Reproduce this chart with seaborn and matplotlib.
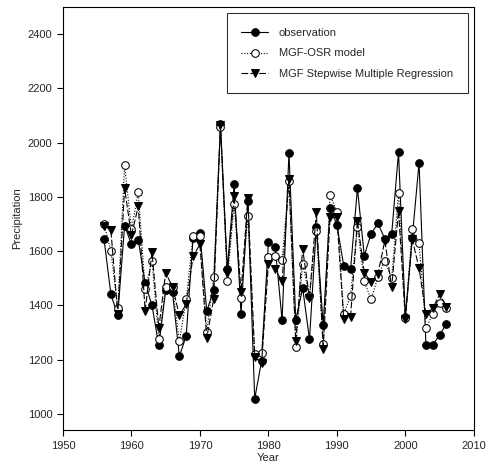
import numpy as np
import pandas as pd
import matplotlib
matplotlib.use("Agg")
import matplotlib.pyplot as plt
import seaborn as sns

# données (1956-2006)
years = list(range(1956, 2007))
observation = [1644, 1441, 1363, 1694, 1625, 1642, 1481, 1400, 1252, 1455,
               1448, 1212, 1288, 1647, 1668, 1378, 1458, 2070, 1533, 1847,
               1367, 1786, 1055, 1195, 1634, 1614, 1345, 1962, 1346, 1464,
               1275, 1690, 1327, 1760, 1697, 1546, 1533, 1832, 1583, 1664,
               1702, 1645, 1663, 1964, 1357, 1648, 1926, 1255, 1255, 1290,
               1333]
mgf_osr = [1700, 1601, 1389, 1917, 1681, 1817, 1461, 1563, 1275, 1468,
           1468, 1267, 1422, 1657, 1657, 1301, 1503, 2057, 1490, 1775,
           1428, 1729, 1221, 1225, 1579, 1581, 1568, 1857, 1248, 1553,
           1435, 1675, 1258, 1808, 1745, 1368, 1436, 1690, 1488, 1422,
           1505, 1565, 1499, 1816, 1353, 1680, 1630, 1315, 1368, 1408,
           1390]
mgf_smr = [1694, 1677, 1367, 1831, 1658, 1765, 1380, 1595, 1317, 1520,
           1468, 1363, 1404, 1581, 1625, 1280, 1422, 2064, 1520, 1804,
           1448, 1795, 1209, 1186, 1553, 1533, 1488, 1867, 1267, 1608,
           1428, 1743, 1238, 1724, 1726, 1348, 1358, 1712, 1520, 1487,
           1517, 1638, 1467, 1749, 1350, 1644, 1537, 1369, 1389, 1441,
           1395]
labels = ["observation", "MGF-OSR model", "MGF Stepwise Multiple Regression"]

sns.set_style("ticks")
plt.rcParams["font.family"] = ["Liberation Sans", "DejaVu Sans"]

fig = plt.figure(figsize=(4.88, 4.66), dpi=100)
ax = fig.add_axes([0.129, 0.077, 0.842, 0.908])

sns.lineplot(x=years, y=observation, ax=ax, color="black", linestyle="-",
             linewidth=0.8, marker="o", markersize=5.5,
             markeredgecolor="black", markerfacecolor="black", label=labels[0])
sns.lineplot(x=years, y=mgf_osr, ax=ax, color="black", linestyle=(0, (1, 1.5)),
             linewidth=0.8, marker="o", markersize=5.5,
             markeredgecolor="black", markerfacecolor="white", label=labels[1])
sns.lineplot(x=years, y=mgf_smr, ax=ax, color="black", linestyle=(0, (6, 2)),
             linewidth=0.8, marker="v", markersize=6,
             markeredgecolor="black", markerfacecolor="black", label=labels[2])

ax.set_xlim(1950, 2010)
ax.set_ylim(940, 2500)
ax.set_xticks(range(1950, 2011, 10))
ax.set_yticks(range(1000, 2401, 200))
ax.tick_params(labelsize=8, length=4, width=0.8, direction="out", color="black")
for s in ax.spines.values():
    s.set_linewidth(0.8)
    s.set_color("black")
ax.set_xlabel("Year", fontsize=8, labelpad=2)
ax.set_ylabel("Precipitation", fontsize=8, labelpad=4)

leg = ax.legend(loc="upper right", bbox_to_anchor=(0.99, 0.99), fontsize=8,
                frameon=True, fancybox=False, handlelength=2.4, borderpad=1.3,
                labelspacing=0.95, handletextpad=1.0, borderaxespad=0.2)
leg.get_frame().set_edgecolor("black")
leg.get_frame().set_linewidth(0.8)

plt.savefig("out.png", dpi=100)
